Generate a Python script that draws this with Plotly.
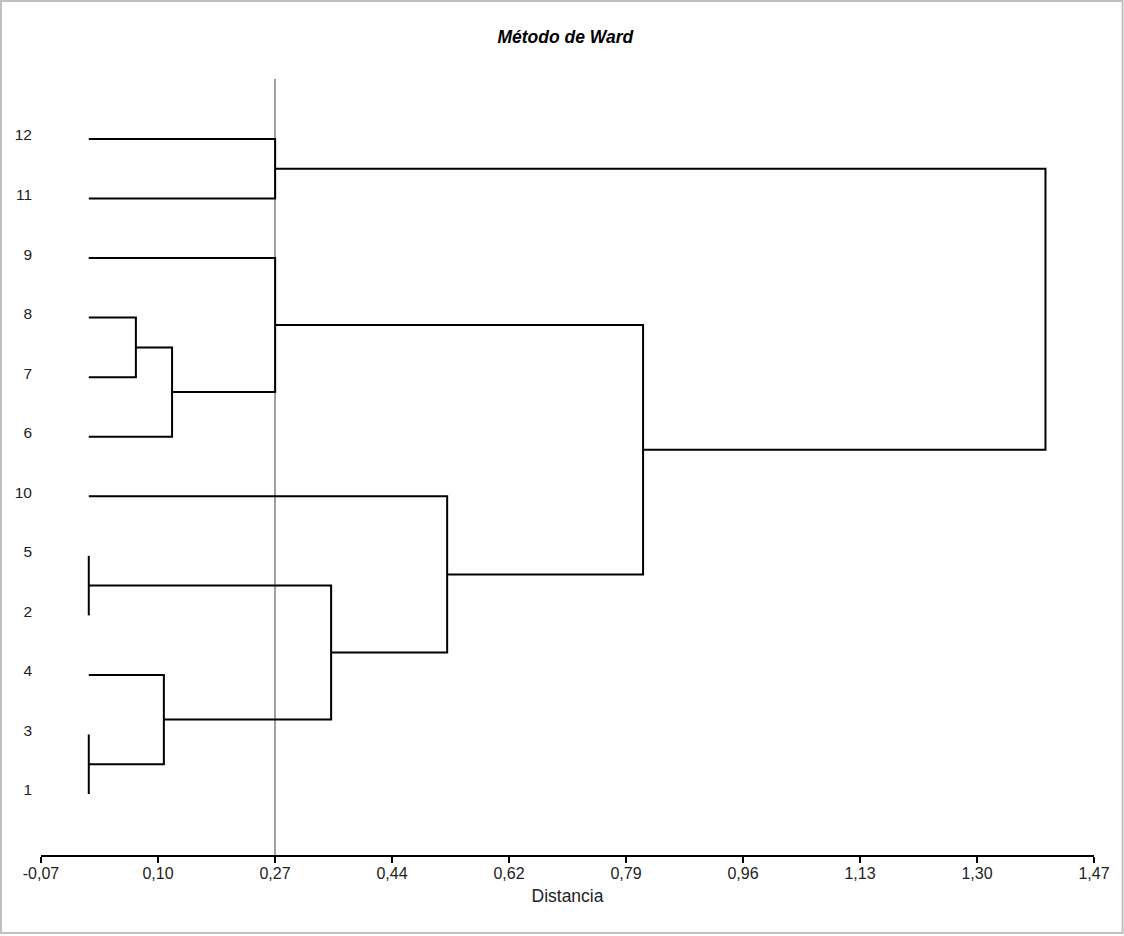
import plotly.graph_objects as go

# ---- data ----
leaf_labels = ["1", "3", "4", "2", "5", "10", "6", "7", "8", "9", "11", "12"]  # bottom -> top
merge_left = ["1", "2", "7", "A", "C", "11", "E", "D", "H", "I", "J"]
merge_right = ["3", "5", "8", "4", "6", "12", "9", "B", "10", "G", "F"]
merge_name = ["A", "B", "C", "D", "E", "F", "G", "H", "I", "J", "K"]
merge_height = [0.0, 0.0, 0.069, 0.110, 0.122, 0.273, 0.273, 0.355, 0.525, 0.812, 1.4015]

x_tickvals = [-0.07, 0.1014, 0.2728, 0.4442, 0.6156, 0.7870, 0.9584, 1.1298, 1.3012, 1.4726]
x_ticktext = ["-0,07", "0,10", "0,27", "0,44", "0,62", "0,79", "0,96", "1,13", "1,30", "1,47"]
cut_value = 0.2728

# ---- build dendrogram segments ----
pos_y = {lab: i for i, lab in enumerate(leaf_labels)}
pos_x = {lab: 0.0 for lab in leaf_labels}
xs, ys = [], []
for l, r, n, h in zip(merge_left, merge_right, merge_name, merge_height):
    yl, yr = pos_y[l], pos_y[r]
    xl, xr = pos_x[l], pos_x[r]
    xs += [xl, h, h, xr, None]
    ys += [yl, yl, yr, yr, None]
    pos_y[n] = (yl + yr) / 2
    pos_x[n] = h

fig = go.Figure()
fig.add_trace(go.Scatter(x=xs, y=ys, mode="lines",
                         line=dict(color="black", width=2),
                         hoverinfo="skip", showlegend=False))

FONT = "Liberation Sans, Arial, sans-serif"

fig.add_shape(type="line", xref="x", yref="paper", x0=cut_value, x1=cut_value,
              y0=0, y1=1, line=dict(color="#808080", width=1.5), layer="below")
# outer frame
fig.add_shape(type="rect", xref="paper", yref="paper",
              x0=-0.038, x1=1.0271, y0=-0.1005, y1=1.1005,
              line=dict(color="#c0c0c0", width=2), layer="below")

fig.update_layout(
    width=1124, height=936,
    margin=dict(l=41, r=30, t=79, b=81),
    paper_bgcolor="white", plot_bgcolor="white",
    font=dict(family=FONT, color="#222222", size=15),
    title=dict(text="<b><i>Método de Ward</i></b>", x=0.498, xanchor="center",
               xref="paper", y=1 - 37 / 936, yanchor="middle",
               font=dict(family=FONT, size=17.5, color="#000000")),
    xaxis=dict(range=[-0.07, 1.4726], tickvals=x_tickvals, ticktext=x_ticktext,
               showgrid=False, zeroline=False, showline=True, linecolor="black",
               linewidth=2, ticks="outside", ticklen=6, tickwidth=2, tickcolor="black",
               ticklabelstandoff=-3,
               tickfont=dict(size=16, family=FONT),
               title=dict(text="Distancia", font=dict(size=17.5, family=FONT), standoff=9)),
    yaxis=dict(range=[-1.024, 12.007], tickvals=list(range(len(leaf_labels))),
               ticktext=leaf_labels, showgrid=False, zeroline=False, showline=False,
               ticks="", ticklabelstandoff=8, ticklabelshift=-4,
               tickfont=dict(size=15.5, family=FONT)),
)

fig.write_html("out.html")
